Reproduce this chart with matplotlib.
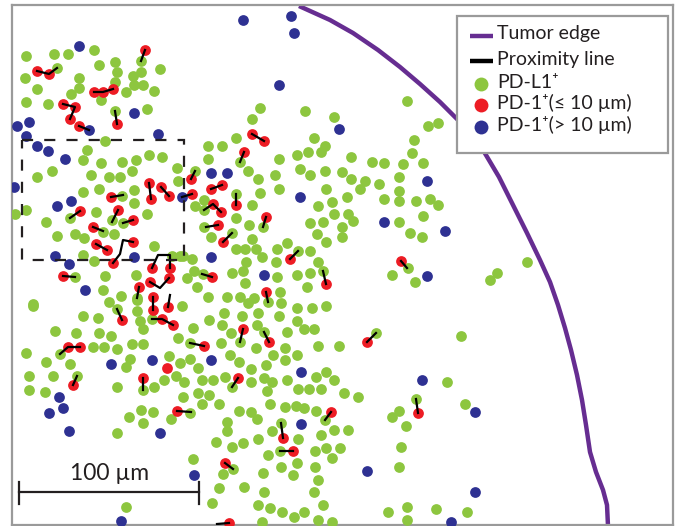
import matplotlib
matplotlib.use('Agg')
from matplotlib import pyplot as plt
from matplotlib.patches import Rectangle

plt.rcParams['font.family'] = ['Lato', 'DejaVu Sans']

# cell positions in image units (scale bar: 180 units = 100 um)
pdl1_x = [26, 54, 68, 94, 141, 57, 25, 99, 115, 117, 133, 141, 160, 79, 37, 79, 71, 115, 126, 134, 143, 154,
          26, 48, 101, 115, 147, 105, 87, 83, 101, 122, 136, 149, 162, 177,
          52, 37, 91, 109, 120, 132, 178, 83, 99, 134, 122, 134, 15, 26, 70, 96, 112, 123, 147,
          46, 57, 75, 84, 114, 103, 83, 94, 154, 180, 172, 75, 105, 136, 137, 103, 121, 33,
          33, 83, 98, 55, 76, 99, 111, 109, 117, 137, 137, 140, 143, 152, 60, 26, 46, 70, 93, 104, 117,
          132, 143, 130, 126, 178, 169, 29, 53, 77, 143, 117, 154, 164, 176, 29, 45, 129, 141, 153, 143,
          171, 117, 126,
          260, 252, 305, 334, 208, 222, 236, 240, 208, 279, 297, 308, 321, 325, 314, 248, 300, 310, 325,
          195, 258, 275, 260, 279, 236, 204, 195, 204, 252, 326, 332, 318, 334, 310, 323, 317, 326, 263,
          236, 249, 204, 211, 232, 252, 236, 245, 256, 277, 287, 262, 246, 276, 298, 310, 318, 192, 183,
          194, 187, 203, 232, 243, 245, 277, 297, 310, 323, 208, 227, 240, 280, 197,
          407, 428, 438, 414, 412, 351, 372, 384, 403, 423, 342, 351, 365, 379, 399, 360, 347, 384, 399,
          399, 416, 430, 438, 348, 353, 342, 342, 399, 423, 410, 422, 392, 415, 490, 497, 527, 408,
          307, 248, 254, 281, 297, 312, 326, 268, 182, 224, 242, 258, 279, 209, 222, 257, 297, 304, 314,
          287, 240, 264, 193, 231, 221, 256, 285, 318, 339, 190, 376, 180, 190, 198, 230, 239, 251, 266,
          273, 285, 297, 184, 202, 213, 225, 251, 264, 272, 287, 267, 298, 309, 321, 316, 326, 334, 344,
          358, 232, 198, 209, 202, 219, 183, 270, 285, 296, 304, 316, 239, 251, 257, 227, 227, 190, 325,
          392, 399, 406, 281, 272, 298, 321, 334, 348, 216, 232, 243, 258, 280, 315, 326, 340, 332, 268,
          401, 233, 193, 223, 263, 281, 297, 293, 315, 399, 219, 244, 264, 318, 314, 212, 258, 270, 282,
          294, 304, 323, 318, 332, 262, 388, 407, 407,
          461, 447, 416, 465, 436, 467]
pdl1_y = [56, 54, 54, 50, 61, 68, 78, 65, 62, 72, 76, 72, 69, 78, 89, 88, 94, 82, 92, 85, 85, 91,
          102, 104, 100, 111, 109, 141, 150, 160, 163, 162, 160, 155, 157, 168,
          171, 177, 175, 177, 177, 171, 181, 192, 189, 190, 196, 203, 214, 210, 218, 212, 220, 223, 214,
          222, 236, 234, 238, 234, 232, 255, 261, 246, 256, 256, 277, 276, 275, 298, 290, 296, 304,
          306, 316, 318, 331, 333, 333, 336, 302, 309, 300, 311, 321, 329, 319, 354, 353, 362, 364, 347, 347, 349,
          344, 344, 359, 367, 338, 356, 376, 376, 376, 390, 387, 387, 380, 376, 390, 392, 417, 410, 412, 423,
          419, 433, 507,
          108, 119, 111, 117, 146, 146, 138, 162, 159, 159, 155, 152, 152, 146, 138, 171, 169, 175, 171,
          171, 179, 175, 193, 189, 194, 200, 206, 210, 205, 189, 202, 206, 214, 223, 222, 234, 242, 227,
          218, 225, 227, 237, 233, 239, 249, 249, 249, 249, 243, 257, 262, 262, 251, 251, 262, 259, 256,
          271, 278, 274, 273, 271, 283, 277, 275, 273, 271, 297, 297, 297, 292, 287,
          101, 126, 123, 140, 153, 157, 162, 163, 164, 163, 172, 179, 181, 184, 177, 189, 197, 199, 191,
          201, 201, 199, 205, 214, 221, 227, 237, 222, 216, 233, 237, 275, 282, 280, 273, 262, 268,
          287, 303, 298, 303, 308, 308, 306, 302, 306, 313, 316, 313, 316, 320, 325, 325, 321, 329, 329,
          332, 342, 332, 328, 333, 343, 348, 348, 346, 346, 343, 333, 363, 359, 368, 355, 362, 369, 365,
          355, 360, 355, 382, 380, 380, 377, 382, 378, 382, 380, 391, 389, 389, 389, 377, 372, 380, 393,
          397, 387, 393, 395, 404, 404, 397, 404, 407, 406, 408, 411, 411, 412, 419, 422, 431, 413, 420,
          417, 411, 426, 423, 431, 439, 435, 430, 430, 442, 447, 443, 439, 451, 451, 448, 448, 458, 455,
          447, 469, 459, 474, 473, 467, 463, 475, 467, 467, 488, 487, 492, 480, 492, 503, 505, 508, 512,
          517, 512, 505, 520, 522, 522, 512, 507, 520,
          336, 382, 399, 404, 509, 512]

near_x = [145, 37, 49, 94, 103, 113, 63, 75, 70, 117, 79, 191, 149, 151, 161, 169, 111, 192, 211, 222,
          118, 133, 93, 96, 107, 133, 113, 152, 170, 150, 169, 139, 153, 153, 168, 212, 236, 213, 221,
          218, 223, 80, 63, 244, 252, 264, 266, 290, 326, 401, 266, 122, 162, 173, 68, 80, 204, 167, 73,
          143, 177, 225, 243, 269, 367, 238, 331, 283, 293, 229, 418]
near_y = [50, 71, 74, 92, 92, 89, 104, 107, 119, 124, 126, 179, 183, 199, 187, 196, 197, 194, 189, 185,
          210, 220, 227, 244, 250, 242, 263, 268, 268, 282, 278, 287, 297, 310, 307, 277, 205, 204, 212,
          225, 242, 211, 276, 152, 134, 141, 217, 259, 284, 261, 292, 320, 319, 325, 347, 347, 346, 368, 385,
          378, 411, 463, 329, 342, 342, 378, 412, 438, 451, 523, 413]

far_x = [79, 134, 17, 29, 89, 26, 37, 48, 65, 158, 211, 227, 14, 182, 57, 71, 55, 69, 134, 211, 85,
         339, 300, 384, 264, 111, 152, 211, 59, 63, 49, 69, 160, 194, 121, 301, 301, 367, 243, 291, 294,
         279, 427, 445, 427, 422, 475, 475, 451]
far_y = [46, 113, 126, 122, 130, 136, 146, 151, 159, 134, 173, 173, 187, 197, 206, 201, 256, 264, 257,
         257, 290, 129, 197, 222, 275, 364, 360, 360, 397, 408, 413, 431, 433, 475, 521, 372, 424, 471,
         20, 16, 33, 85, 181, 231, 276, 380, 412, 492, 522]

# proximity links, each a polyline of (x, y)
links = [
    [(145, 50), (141, 61)], [(37, 71), (49, 74), (57, 68)], [(94, 92), (103, 92), (113, 89)],
    [(63, 104), (75, 107), (70, 119)], [(115, 111), (117, 124)], [(79, 126), (89, 130)],
    [(149, 183), (151, 199)], [(161, 187), (169, 196)], [(111, 197), (123, 195)],
    [(182, 197), (192, 194)], [(191, 179), (195, 171)], [(118, 210), (112, 222)],
    [(133, 220), (123, 223)], [(93, 227), (103, 231)], [(96, 244), (107, 250)],
    [(133, 242), (123, 240), (120, 254), (113, 263)], [(152, 268), (158, 255), (170, 255), (170, 268)],
    [(150, 282), (160, 288), (169, 278)], [(139, 287), (137, 298)], [(153, 297), (153, 310)],
    [(168, 307), (170, 295)], [(212, 277), (202, 274)], [(211, 189), (222, 185)],
    [(236, 205), (236, 194)], [(204, 210), (213, 204), (221, 212)], [(218, 225), (206, 227)],
    [(223, 242), (232, 233)], [(80, 211), (70, 218)], [(63, 276), (75, 277)],
    [(244, 152), (240, 162)], [(252, 134), (264, 141)], [(266, 217), (263, 227)],
    [(290, 259), (298, 251)], [(326, 284), (323, 271)], [(401, 261), (407, 268)],
    [(266, 292), (268, 302)], [(122, 320), (117, 309)], [(152, 319), (162, 319), (173, 325)],
    [(60, 354), (68, 347), (80, 347)], [(204, 346), (190, 343)], [(73, 385), (77, 376)],
    [(143, 378), (143, 390)], [(177, 411), (191, 412)], [(243, 329), (240, 342)],
    [(269, 342), (264, 332)], [(367, 342), (376, 333)], [(238, 378), (232, 387)],
    [(331, 412), (325, 420)], [(283, 438), (281, 423)], [(293, 451), (280, 451)],
    [(225, 463), (233, 469)], [(418, 413), (416, 399)], [(229, 523), (217, 524)],
]

edge_x = [299, 330, 353, 378, 400, 420, 440, 462, 483, 499, 513, 527, 540, 550, 558, 565, 571, 577,
          582, 586, 590, 596, 603, 607, 608]
edge_y = [6, 20, 33, 50, 67, 84, 102, 124, 150, 177, 205, 233, 260, 282, 305, 328, 350, 375,
          400, 425, 452, 472, 490, 505, 526]

green = '#8dc63f'
red = '#ed1c24'
blue = '#2e3192'
purple = '#662d91'
ink = '#231f20'

fig = plt.figure(figsize=(6.78, 5.26), dpi=100)
ax = fig.add_axes([12 / 678, 1 / 526, 661 / 678, 520 / 526])
ax.set_xlim(12, 673)
ax.set_ylim(525, 5)
ax.set_xticks([])
ax.set_yticks([])
for s in ax.spines.values():
    s.set_color('#9a9a9a')
    s.set_linewidth(1.6)

ax.plot(edge_x, edge_y, color=purple, lw=3.2, zorder=2, solid_capstyle='butt')

ax.scatter(pdl1_x, pdl1_y, s=60, color=green, lw=0, zorder=3)
ax.scatter(near_x, near_y, s=60, color=red, lw=0, zorder=3)
ax.scatter(far_x, far_y, s=60, color=blue, lw=0, zorder=3)

for ln in links:
    ax.plot([p[0] for p in ln], [p[1] for p in ln], color='black', lw=1.6, zorder=4)

# zoom box
ax.add_patch(Rectangle((22, 140), 162, 120, fill=False, ec=ink, lw=1.6,
                       ls=(0, (5, 5)), zorder=5))

# scale bar
ax.plot([19, 199], [492, 492], color=ink, lw=1.6, zorder=5)
ax.plot([19, 19], [482, 504], color=ink, lw=1.6, zorder=5)
ax.plot([199, 199], [482, 504], color=ink, lw=1.6, zorder=5)
ax.text(110, 474, '100 µm', fontsize=16.5, color=ink, ha='center', va='center', zorder=5)

# legend
ax.add_patch(Rectangle((457, 16), 211, 137, fc='white', ec='#9a9a9a', lw=1.6, zorder=6))
ax.plot([470, 493], [36, 36], color=purple, lw=3.2, zorder=7, solid_capstyle='butt')
ax.plot([470, 493], [61, 61], color='black', lw=3.2, zorder=7, solid_capstyle='butt')
ax.scatter([481], [84], s=100, color=green, lw=0, zorder=7)
ax.scatter([481], [105], s=100, color=red, lw=0, zorder=7)
ax.scatter([481], [127], s=100, color=blue, lw=0, zorder=7)
labels = ['Tumor edge', 'Proximity line', 'PD-L1⁺', 'PD-1⁺(≤ 10 µm)', 'PD-1⁺(> 10 µm)']
for lab, yy in zip(labels, [34, 60, 82, 103, 125]):
    ax.text(497, yy, lab, fontsize=14, color=ink, va='center', ha='left', zorder=7)

plt.savefig('out.png', dpi=100)
plt.close()
